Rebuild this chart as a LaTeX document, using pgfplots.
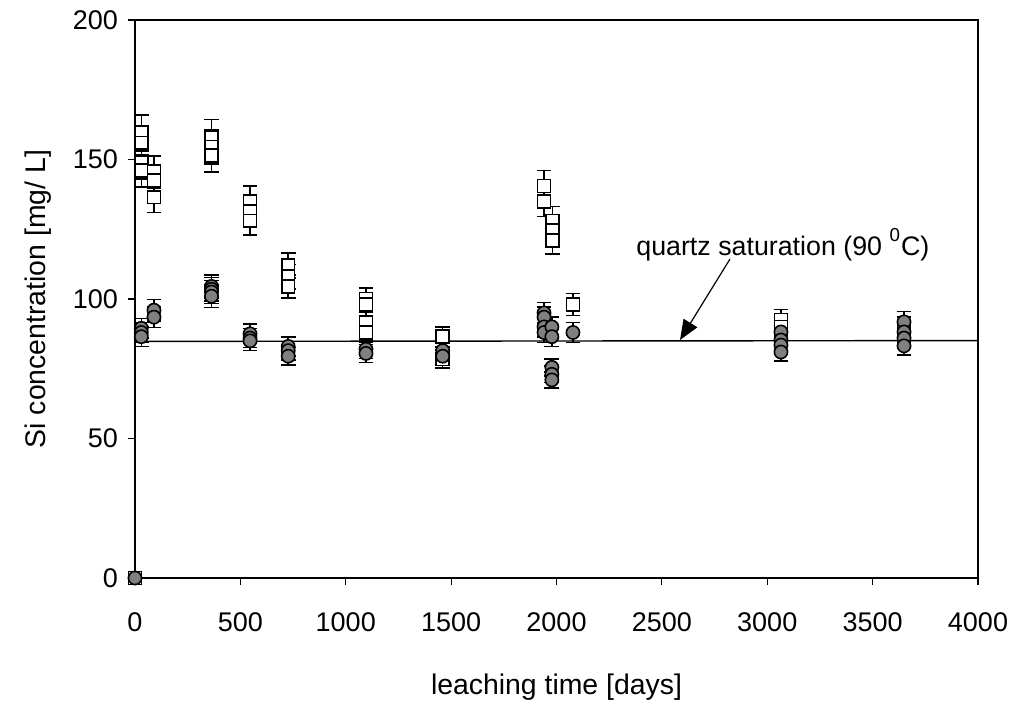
\documentclass[border=0pt]{standalone}
\usepackage{fontspec}
\setmainfont{Liberation Sans}
\usepackage{pgfplots}
\pgfplotsset{compat=1.18}
\usetikzlibrary{arrows.meta}
\definecolor{mkgray}{HTML}{808080}
\begin{document}
\begin{tikzpicture}
\path[use as bounding box] (-67.5pt,-65pt) rectangle (438.5pt,289pt);
\begin{axis}[at={(0,0)}, anchor=south west, scale only axis,
  width=421.5pt, height=279pt,
  xmin=0, xmax=4000, ymin=0, ymax=200,
  xtick={0,500,...,4000}, ytick={0,50,...,200},
  tick align=outside, xtick pos=bottom, ytick pos=left,
  major tick length=3.5pt,
  axis line style={line width=1pt},
  tick style={line width=0.6pt, black},
  /pgf/number format/assume math mode=true,
  /pgf/number format/1000 sep={},
  tick label style={font=\fontsize{13.5}{15}\selectfont},
  xticklabel style={yshift=-10.5pt},
  yticklabel style={xshift=-1.5pt},
  xlabel={leaching time [days]},
  ylabel={Si concentration [mg/ L]},
  every axis x label/.style={at={(axis description cs:0.5,0)}, yshift=-54.5pt, anchor=center, font=\fontsize{14.2}{16}\selectfont},
  every axis y label/.style={at={(axis description cs:0,0.5)}, xshift=-48.5pt, rotate=90, anchor=center, font=\fontsize{14.2}{16}\selectfont},
  clip=false]

% quartz saturation line
\addplot[black, line width=0.7pt, no marks] coordinates {(0,84.8) (4000,85.1)};

% squares
\addplot[only marks, mark=square*, mark size=3.2pt,
  mark options={fill=white, draw=black, line width=0.8pt},
  error bars/.cd, y dir=both, y fixed relative=0.04,
  error bar style={line width=0.8pt, black},
  error mark options={rotate=90, mark size=3.7pt, line width=0.8pt, black}]
coordinates {
(0,0)
(30,159.5) (30,156) (30,149) (30,146)
(90,145.5) (90,142.5) (90,136.5)
(363,158) (363,154.5) (363,151.5)
(546,135) (546,131.5) (546,128)
(727,112) (727,108) (727,104.5)
(1096,100) (1096,98) (1096,91.5) (1096,88)
(1460,86.5) (1460,78.5)
(1941,140.5) (1941,135)
(1981,128) (1981,124.5) (1981,121)
(2078,98)
(3065,92.5) (3065,90) (3065,87)
(3649,90) (3649,86)
};

% circles
\addplot[only marks, mark=*, mark size=3.3pt,
  mark options={fill=mkgray, draw=black, line width=0.8pt},
  error bars/.cd, y dir=both, y fixed relative=0.04,
  error bar style={line width=0.8pt, black},
  error mark options={rotate=90, mark size=3.7pt, line width=0.8pt, black}]
coordinates {
(0,0)
(30,89.5) (30,88) (30,86.5)
(90,96) (90,93.5)
(363,104.5) (363,103.5) (363,102.5) (363,101)
(546,87.5) (546,86) (546,85)
(727,83) (727,81.5) (727,79.5)
(1096,82) (1096,80.5)
(1460,81.5) (1460,79.5)
(1941,95) (1941,93.5) (1941,90) (1941,88)
(1978,90) (1978,86.5) (1978,75.5) (1978,73) (1978,71)
(2078,88)
(3065,88.2) (3065,85.3) (3065,83.5) (3065,81)
(3649,91.8) (3649,88.2) (3649,86) (3649,83.2)
};

\draw[line width=0.6pt, -{Triangle[length=10pt,width=8pt]}] (axis cs:2823,114.3) -- (axis cs:2586,85.3);
\node[anchor=west, inner sep=0pt, font=\fontsize{13.4}{15}\selectfont] at (axis cs:2377,119.4) {quartz saturation (90 \raisebox{0.15em}{\textsuperscript{0}}C)};
\end{axis}
\end{tikzpicture}
\end{document}
